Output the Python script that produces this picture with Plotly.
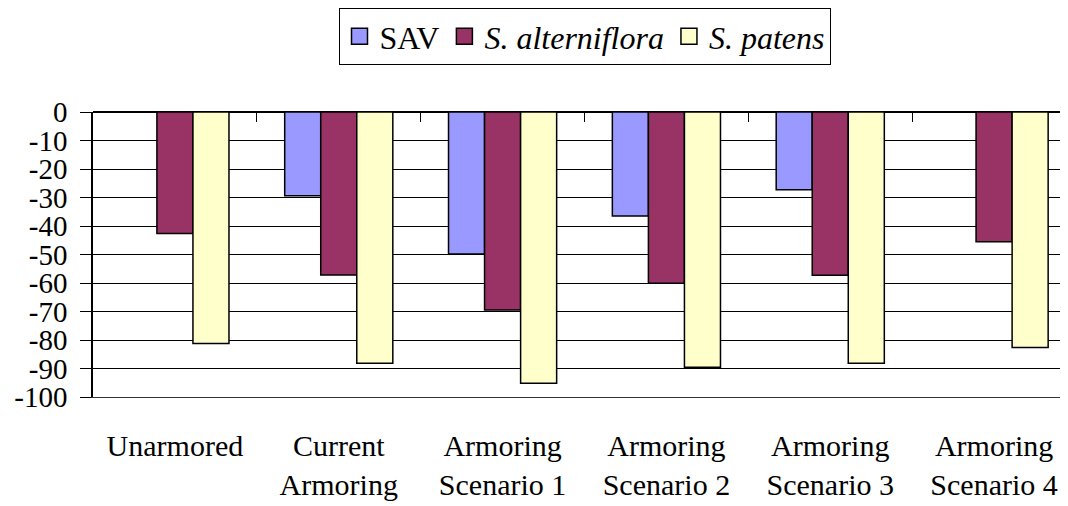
import plotly.graph_objects as go

categories = ["Unarmored", "Current<br>Armoring", "Armoring<br>Scenario 1",
              "Armoring<br>Scenario 2", "Armoring<br>Scenario 3", "Armoring<br>Scenario 4"]
sav = [None, -29.4, -49.8, -36.5, -27.3, None]
alterniflora = [-42.6, -57.2, -69.5, -60.1, -57.3, -45.5]
patens = [-81.2, -88.2, -95.2, -89.6, -88.2, -82.6]
y_tickvals = [0, -10, -20, -30, -40, -50, -60, -70, -80, -90, -100]
y_ticktext = ["0", "-10", "-20", "-30", "-40", "-50", "-60", "-70", "-80", "-90", "-100"]

series = [
    ("SAV", sav, "#9999FF"),
    ("<i>S. alterniflora</i>", alterniflora, "#993366"),
    ("<i>S. patens</i>", patens, "#FFFFCC"),
]

FONT = "Liberation Serif, Times New Roman, serif"
fig = go.Figure()
for name, vals, color in series:
    fig.add_trace(go.Bar(
        x=categories, y=vals, name=name, showlegend=False,
        marker=dict(color=color, line=dict(color="black", width=1.5)),
    ))
for name, vals, color in series:
    fig.add_trace(go.Scatter(
        x=[None], y=[None], name=name, mode="markers",
        marker=dict(symbol="square", size=16, color=color,
                    line=dict(color="black", width=1.5)),
    ))
# invisible trace for the top category axis (tick marks between groups)
fig.add_trace(go.Scatter(x=categories, y=[None] * len(categories), xaxis="x2",
                         showlegend=False, hoverinfo="skip", mode="markers"))

fig.update_layout(
    width=1068, height=506,
    paper_bgcolor="white", plot_bgcolor="white",
    margin=dict(l=85, r=0, t=104, b=117, autoexpand=False),
    barmode="group", bargap=0.34, bargroupgap=0,
    font=dict(family=FONT, size=30, color="black"),
    legend=dict(orientation="h", x=0.5, xanchor="center", y=1.365, yanchor="top",
                bordercolor="black", borderwidth=1, font=dict(family=FONT, size=32),
                itemsizing="trace", tracegroupgap=0),
    xaxis=dict(range=[-0.5, 5.5], showgrid=False, showline=True, linecolor="#333333",
               linewidth=1, ticks="", automargin=False,
               tickfont=dict(family=FONT, size=30), ticklabelstandoff=22),
    xaxis2=dict(overlaying="x", matches="x", side="top", anchor="y",
                ticks="inside", tickson="boundaries", ticklen=10, tickcolor="black",
                showticklabels=False, showline=False, showgrid=False, automargin=False),
    yaxis=dict(range=[-100, 0], tickvals=y_tickvals, ticktext=y_ticktext,
               showline=True, linecolor="black", linewidth=1.5, automargin=False,
               ticks="outside", ticklen=11, tickcolor="black",
               showgrid=True, gridcolor="black", gridwidth=1,
               zeroline=True, zerolinecolor="black", zerolinewidth=1.5,
               tickfont=dict(family=FONT, size=29), ticklabelstandoff=7),
)

fig.write_html("out.html")
